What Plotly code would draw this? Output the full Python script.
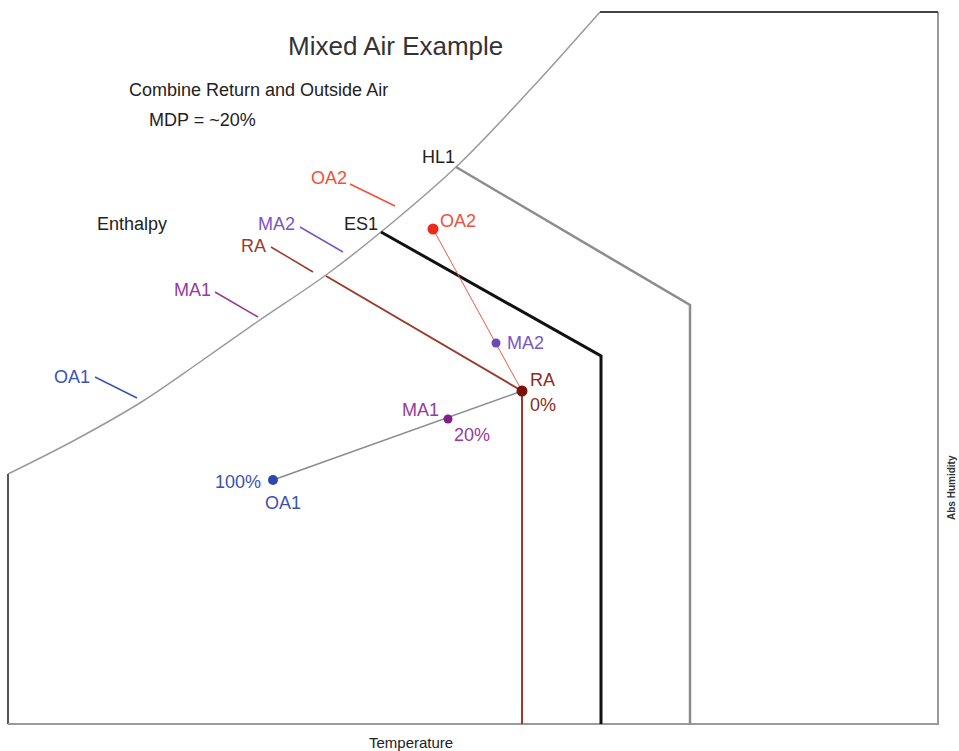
import plotly.graph_objects as go

# Diagram coordinates (temperature -> x, absolute humidity -> y, y axis reversed)
sat_t = [8, 75, 143, 200, 257, 326, 381, 456, 530, 600]
sat_w = [474, 440, 401, 362, 322, 275, 232, 167, 90, 12]

frame_t = [8, 8, 938, 938, 600]
frame_w = [474, 724, 724, 12, 12]

es1_t = [381, 601, 601]
es1_w = [232, 356, 724]

hl1_t = [456, 690, 690]
hl1_w = [167, 305, 724]

ra_t = [326, 522, 522]
ra_w = [276, 391, 724]

mix1_t = [273, 522]
mix1_w = [480, 391]
mix2_t = [433, 522]
mix2_w = [229, 391]

states = ["OA2", "MA2", "RA", "MA1", "OA1"]
state_t = [433, 496, 522, 448, 273]
state_w = [229, 343, 391, 419, 480]
state_size = [11, 9, 11, 9, 10]
state_color = ["#ee2a1c", "#6e48b8", "#7a120c", "#7e2086", "#2a48ad"]
label_color = ["#f0503a", "#7a55c4", "#9c3a2c", "#963a9c", "#3a52b4"]

# enthalpy leader lines (start, end)
lead_t0 = [350, 300, 271, 215, 95]
lead_w0 = [184, 227, 247, 292, 377]
lead_t1 = [395, 343, 313, 258, 137]
lead_w1 = [206, 252, 272, 317, 398]
lead_lbl_t = [329, 276, 253, 192, 72]
lead_lbl_w = [178, 224, 246, 290, 377]

fig = go.Figure()

fig.add_trace(go.Scatter(x=sat_t, y=sat_w, mode="lines",
                         line=dict(color="#9a9a9a", width=1.5, shape="spline", smoothing=1.0),
                         hoverinfo="skip"))
fig.add_trace(go.Scatter(x=frame_t[:2], y=frame_w[:2], mode="lines",
                         line=dict(color="#555555", width=2), hoverinfo="skip"))
fig.add_trace(go.Scatter(x=frame_t[1:4], y=frame_w[1:4], mode="lines",
                         line=dict(color="#9a9a9a", width=2), hoverinfo="skip"))
fig.add_trace(go.Scatter(x=frame_t[3:], y=frame_w[3:], mode="lines",
                         line=dict(color="#444444", width=2), hoverinfo="skip"))
fig.add_trace(go.Scatter(x=hl1_t, y=hl1_w, mode="lines",
                         line=dict(color="#8c8c8c", width=2.5), hoverinfo="skip"))
fig.add_trace(go.Scatter(x=es1_t, y=es1_w, mode="lines",
                         line=dict(color="#111111", width=3), hoverinfo="skip"))
fig.add_trace(go.Scatter(x=ra_t, y=ra_w, mode="lines",
                         line=dict(color="#9c3a2c", width=2), hoverinfo="skip"))
fig.add_trace(go.Scatter(x=mix1_t, y=mix1_w, mode="lines",
                         line=dict(color="#8a8a8a", width=1.5), hoverinfo="skip"))
fig.add_trace(go.Scatter(x=mix2_t, y=mix2_w, mode="lines",
                         line=dict(color="#f05a46", width=1), hoverinfo="skip"))

for i in range(len(states)):
    fig.add_trace(go.Scatter(x=[lead_t0[i], lead_t1[i]], y=[lead_w0[i], lead_w1[i]], mode="lines",
                             line=dict(color=label_color[i], width=1.5), hoverinfo="skip"))
    fig.add_annotation(x=lead_lbl_t[i], y=lead_lbl_w[i], text=states[i], showarrow=False,
                       font=dict(size=18, color=label_color[i]))

fig.add_trace(go.Scatter(x=state_t, y=state_w, mode="markers",
                         marker=dict(size=state_size, color=state_color, opacity=1,
                                     line=dict(width=0)),
                         hoverinfo="skip"))

point_labels = ["OA2", "MA2", "RA", "0%", "MA1", "20%", "100%", "OA1"]
point_lbl_t = [458, 525, 542, 543, 420, 472, 238, 283]
point_lbl_w = [221, 343, 380, 405, 410, 435, 482, 503]
point_lbl_c = ["#f0503a", "#7a55c4", "#8e2a20", "#8e2a20", "#963a9c", "#963a9c", "#3a52b4", "#3a52b4"]
for txt, t, w, c in zip(point_labels, point_lbl_t, point_lbl_w, point_lbl_c):
    fig.add_annotation(x=t, y=w, text=txt, showarrow=False, font=dict(size=18, color=c))

black_labels = ["Mixed Air Example", "Combine Return and Outside Air", "MDP = ~20%",
                "HL1", "ES1", "Enthalpy", "Temperature"]
black_t = [395, 258, 202, 438, 361, 132, 411]
black_w = [46, 90, 120, 157, 224, 224, 742]
black_size = [26, 18, 18, 18, 18, 18, 15]
black_color = ["#333333", "#222222", "#222222", "#222222", "#222222", "#222222", "#222222"]
for txt, t, w, s, c in zip(black_labels, black_t, black_w, black_size, black_color):
    fig.add_annotation(x=t, y=w, text=txt, showarrow=False, font=dict(size=s, color=c))

fig.add_annotation(x=951, y=488, text="<b>Abs Humidity</b>", showarrow=False, textangle=-90,
                   font=dict(size=10, color="#333333"))

fig.update_layout(
    width=959, height=751,
    margin=dict(l=0, r=0, t=0, b=0),
    paper_bgcolor="white", plot_bgcolor="white",
    showlegend=False,
    font=dict(family="Liberation Sans, Arial, sans-serif"),
    xaxis=dict(range=[0, 959], visible=False, fixedrange=True),
    yaxis=dict(range=[751, 0], visible=False, fixedrange=True),
)

fig.write_html("out.html",
               config={"displayModeBar": False, "staticPlot": True},
               post_script="document.body.style.margin='0';document.body.style.overflow='hidden';")
